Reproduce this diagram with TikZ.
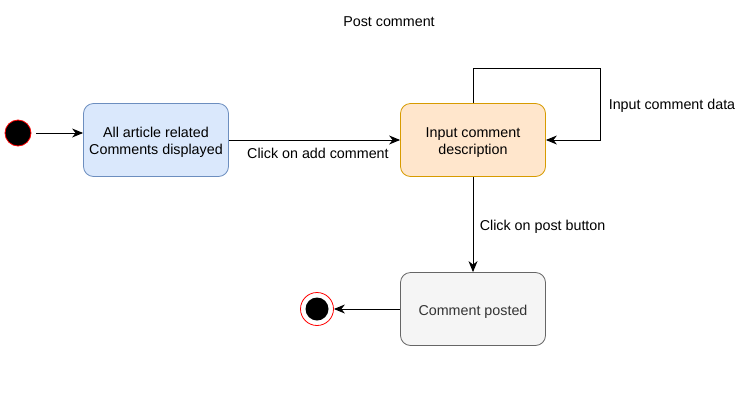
\documentclass[tikz,border=0pt]{standalone}
\usepackage{fontspec}
\setmainfont{Liberation Sans}
\usetikzlibrary{arrows.meta}
\definecolor{bfill}{HTML}{DAE8FC}\definecolor{bdraw}{HTML}{6C8EBF}
\definecolor{ofill}{HTML}{FFE6CC}\definecolor{odraw}{HTML}{D79B00}
\definecolor{gfill}{HTML}{F5F5F5}\definecolor{gdraw}{HTML}{666666}
\definecolor{gtext}{HTML}{333333}
\newcommand{\lowtxt}[1]{\raisebox{-3pt}[\height][\depth]{\begin{tabular}{@{}c@{}}#1\end{tabular}}}
\begin{document}
\begin{tikzpicture}[x=1pt,y=-1pt,
  state/.style={draw,rounded corners=10pt,minimum width=145pt,minimum height=73pt,align=center,font=\fontsize{14.3}{17}\selectfont,line width=0.8pt},
  lbl/.style={font=\fontsize{14.3}{17}\selectfont},
  conn/.style={-{Stealth[length=11pt,width=9pt,inset=3.5pt]},line width=0.9pt}]
\useasboundingbox (0,0) rectangle (752,410);
\node[lbl] (title) at (389,22) {Post comment};
\node[circle,fill=black,draw=red,line width=0.8pt,minimum size=26pt,inner sep=0pt] (start) at (18,133) {};
\node[state,fill=bfill,draw=bdraw] (s1) at (156,140) {\lowtxt{All article related\\Comments displayed}};
\node[state,fill=ofill,draw=odraw] (s2) at (473,140) {\lowtxt{Input comment\\description}};
\node[state,fill=gfill,draw=gdraw,text=gtext] (s3) at (473,309) {\lowtxt{Comment posted}};
\node[circle,fill=white,draw=red,line width=0.8pt,minimum size=33pt,inner sep=0pt] (endo) at (317,309) {};
\node[circle,fill=black,inner sep=0pt,minimum size=23pt] (endi) at (317,309) {};
\coordinate (lA) at (473,68);
\coordinate (lB) at (600,68);
\coordinate (lC) at (600,140);
\draw[conn] ([xshift=5pt]start.east) -- (start.east -| s1.west);
\draw[conn] (s1) -- node[lbl,below,pos=0.52,yshift=-4pt] {Click on add comment} (s2);
\draw[conn] (s2.north) -- (lA) -- (lB) -- (lC) -- (s2.east);
\node[lbl] (loopl) at (672,106) {Input comment data};
\draw[conn] (s2) -- node[lbl,right,xshift=3pt,yshift=-2pt] {Click on post button} (s3);
\draw[conn] (s3) -- (endo);
\end{tikzpicture}
\end{document}
